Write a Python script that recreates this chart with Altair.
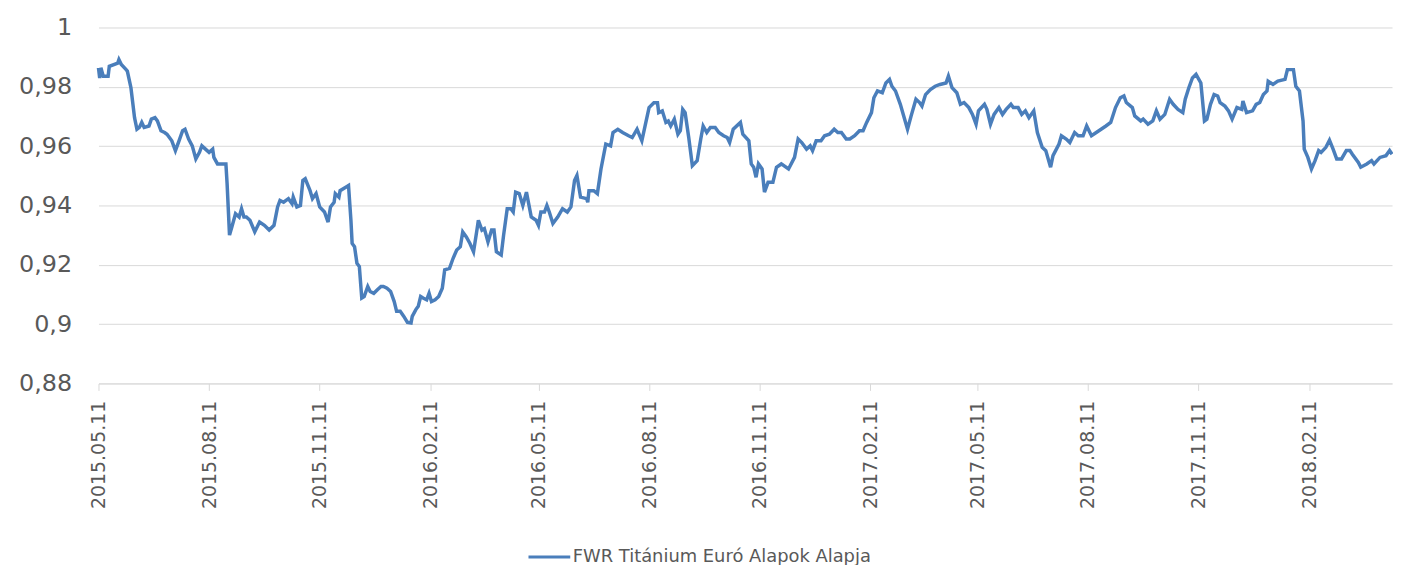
import altair as alt
import pandas as pd

SERIES = "FWR Titánium Euró Alapok Alapja"

dates = [
 "2015-05-11","2015-05-12","2015-05-13","2015-05-15","2015-05-19","2015-05-20","2015-05-27","2015-05-28","2015-05-30","2015-06-03",
 "2015-06-04","2015-06-07","2015-06-10","2015-06-12","2015-06-14","2015-06-16","2015-06-18","2015-06-22","2015-06-24","2015-06-27",
 "2015-06-29","2015-07-02","2015-07-05","2015-07-07","2015-07-11","2015-07-14","2015-07-17","2015-07-20","2015-07-22","2015-07-25",
 "2015-07-28","2015-07-31","2015-08-03","2015-08-05","2015-08-08","2015-08-11","2015-08-14","2015-08-15","2015-08-18","2015-08-22",
 "2015-08-25","2015-08-26","2015-08-28","2015-08-30","2015-09-02","2015-09-05","2015-09-07","2015-09-09","2015-09-11","2015-09-14",
 "2015-09-18","2015-09-22","2015-09-26","2015-09-30","2015-10-04","2015-10-07","2015-10-09","2015-10-12","2015-10-16","2015-10-19",
 "2015-10-20","2015-10-23","2015-10-26","2015-10-28","2015-10-30","2015-11-03","2015-11-05","2015-11-08","2015-11-11","2015-11-15",
 "2015-11-18","2015-11-20","2015-11-23","2015-11-24","2015-11-27","2015-11-28","2015-12-03","2015-12-05","2015-12-07","2015-12-08",
 "2015-12-10","2015-12-12","2015-12-14","2015-12-16","2015-12-18","2015-12-21","2015-12-23","2015-12-26","2015-12-29","2016-01-01",
 "2016-01-03","2016-01-06","2016-01-09","2016-01-12","2016-01-14","2016-01-17","2016-01-20","2016-01-23","2016-01-26","2016-01-27",
 "2016-01-30","2016-02-01","2016-02-03","2016-02-05","2016-02-08","2016-02-10","2016-02-12","2016-02-15","2016-02-18","2016-02-21",
 "2016-02-23","2016-02-27","2016-03-01","2016-03-04","2016-03-07","2016-03-09","2016-03-12","2016-03-15","2016-03-18","2016-03-21",
 "2016-03-22","2016-03-25","2016-03-27","2016-03-30","2016-04-02","2016-04-04","2016-04-06","2016-04-10","2016-04-12","2016-04-15",
 "2016-04-18","2016-04-20","2016-04-22","2016-04-25","2016-04-28","2016-05-01","2016-05-05","2016-05-09","2016-05-11","2016-05-13",
 "2016-05-16","2016-05-18","2016-05-20","2016-05-23","2016-05-27","2016-05-31","2016-06-04","2016-06-07","2016-06-10","2016-06-12",
 "2016-06-15","2016-06-20","2016-06-21","2016-06-22","2016-06-26","2016-06-29","2016-07-02","2016-07-06","2016-07-10","2016-07-12",
 "2016-07-16","2016-07-20","2016-07-25","2016-07-28","2016-08-01","2016-08-05","2016-08-08","2016-08-11","2016-08-15","2016-08-18",
 "2016-08-19","2016-08-22","2016-08-25","2016-08-27","2016-08-29","2016-09-01","2016-09-04","2016-09-06","2016-09-08","2016-09-10",
 "2016-09-13","2016-09-16","2016-09-20","2016-09-23","2016-09-25","2016-09-28","2016-10-01","2016-10-05","2016-10-08","2016-10-12",
 "2016-10-15","2016-10-17","2016-10-20","2016-10-26","2016-10-28","2016-11-02","2016-11-04","2016-11-06","2016-11-08","2016-11-10",
 "2016-11-13","2016-11-15","2016-11-18","2016-11-22","2016-11-25","2016-11-29","2016-12-05","2016-12-10","2016-12-13","2016-12-16",
 "2016-12-20","2016-12-23","2016-12-25","2016-12-28","2017-01-01","2017-01-04","2017-01-08","2017-01-12","2017-01-15","2017-01-18",
 "2017-01-22","2017-01-25","2017-01-29","2017-02-02","2017-02-05","2017-02-08","2017-02-12","2017-02-14","2017-02-17","2017-02-21",
 "2017-02-24","2017-02-27","2017-03-01","2017-03-04","2017-03-08","2017-03-14","2017-03-17","2017-03-21","2017-03-24","2017-03-26",
 "2017-03-29","2017-04-02","2017-04-06","2017-04-10","2017-04-15","2017-04-17","2017-04-20","2017-04-24","2017-04-27","2017-04-30",
 "2017-05-04","2017-05-07","2017-05-10","2017-05-12","2017-05-17","2017-05-19","2017-05-22","2017-05-25","2017-05-29","2017-06-01",
 "2017-06-04","2017-06-08","2017-06-10","2017-06-14","2017-06-17","2017-06-20","2017-06-23","2017-06-27","2017-06-30","2017-07-04",
 "2017-07-07","2017-07-11","2017-07-13","2017-07-18","2017-07-20","2017-07-24","2017-07-27","2017-07-31","2017-08-03","2017-08-07",
 "2017-08-10","2017-08-14","2017-08-18","2017-08-22","2017-08-26","2017-08-30","2017-09-03","2017-09-07","2017-09-10","2017-09-12",
 "2017-09-17","2017-09-19","2017-09-24","2017-09-26","2017-09-30","2017-10-04","2017-10-07","2017-10-10","2017-10-14","2017-10-18",
 "2017-10-21","2017-10-25","2017-10-29","2017-10-31","2017-11-03","2017-11-06","2017-11-09","2017-11-13","2017-11-16","2017-11-18",
 "2017-11-21","2017-11-24","2017-11-27","2017-11-29","2017-12-03","2017-12-06","2017-12-09","2017-12-13","2017-12-17","2017-12-18",
 "2017-12-21","2017-12-26","2017-12-29","2018-01-01","2018-01-04","2018-01-07","2018-01-08","2018-01-12","2018-01-16","2018-01-22",
 "2018-01-24","2018-01-29","2018-01-31","2018-02-03","2018-02-06","2018-02-07","2018-02-10","2018-02-13","2018-02-16","2018-02-19",
 "2018-02-21","2018-02-25","2018-02-28","2018-03-03","2018-03-06","2018-03-10","2018-03-14","2018-03-17","2018-03-19","2018-03-24",
 "2018-03-26","2018-03-31","2018-04-04","2018-04-06","2018-04-11","2018-04-16","2018-04-19","2018-04-21",
]

values = [
 0.9864,0.9830,0.9864,0.9836,0.9836,0.9869,0.9880,0.9892,0.9875,0.9858,
 0.9853,0.9797,0.9696,0.9657,0.9663,0.9680,0.9663,0.9668,0.9691,0.9696,
 0.9685,0.9652,0.9646,0.9640,0.9618,0.9585,0.9618,0.9652,0.9657,0.9624,
 0.9601,0.9557,0.9579,0.9601,0.9590,0.9579,0.9590,0.9562,0.9540,0.9540,
 0.9540,0.9473,0.9300,0.9328,0.9372,0.9361,0.9389,0.9361,0.9361,0.9350,
 0.9311,0.9344,0.9333,0.9317,0.9333,0.9395,0.9417,0.9411,0.9423,0.9406,
 0.9428,0.9395,0.9400,0.9484,0.9490,0.9450,0.9423,0.9440,0.9395,0.9378,
 0.9344,0.9395,0.9411,0.9440,0.9428,0.9450,0.9462,0.9467,0.9350,0.9272,
 0.9261,0.9205,0.9194,0.9088,0.9093,0.9127,0.9110,0.9104,0.9116,0.9127,
 0.9127,0.9121,0.9110,0.9076,0.9043,0.9043,0.9026,0.9006,0.9004,0.9026,
 0.9049,0.9060,0.9093,0.9088,0.9082,0.9104,0.9076,0.9082,0.9093,0.9121,
 0.9183,0.9188,0.9222,0.9250,0.9261,0.9311,0.9294,0.9272,0.9244,0.9322,
 0.9350,0.9317,0.9322,0.9277,0.9317,0.9317,0.9244,0.9233,0.9300,0.9389,
 0.9389,0.9378,0.9445,0.9440,0.9400,0.9445,0.9361,0.9350,0.9333,0.9378,
 0.9378,0.9400,0.9378,0.9339,0.9361,0.9389,0.9378,0.9395,0.9484,0.9501,
 0.9428,0.9423,0.9411,0.9450,0.9450,0.9440,0.9523,0.9607,0.9601,0.9646,
 0.9657,0.9646,0.9635,0.9629,0.9657,0.9618,0.9674,0.9730,0.9746,0.9746,
 0.9713,0.9719,0.9680,0.9685,0.9668,0.9691,0.9640,0.9652,0.9724,0.9713,
 0.9629,0.9534,0.9551,0.9624,0.9668,0.9646,0.9663,0.9663,0.9646,0.9635,
 0.9629,0.9612,0.9657,0.9680,0.9640,0.9618,0.9540,0.9529,0.9495,0.9540,
 0.9523,0.9445,0.9478,0.9478,0.9529,0.9540,0.9523,0.9562,0.9624,0.9612,
 0.9590,0.9601,0.9585,0.9618,0.9618,0.9635,0.9640,0.9657,0.9646,0.9646,
 0.9624,0.9624,0.9635,0.9652,0.9652,0.9680,0.9713,0.9763,0.9786,0.9780,
 0.9813,0.9825,0.9802,0.9786,0.9741,0.9657,0.9702,0.9758,0.9747,0.9735,
 0.9774,0.9791,0.9802,0.9808,0.9813,0.9836,0.9797,0.9780,0.9741,0.9747,
 0.9730,0.9707,0.9674,0.9719,0.9741,0.9724,0.9674,0.9707,0.9730,0.9707,
 0.9724,0.9741,0.9730,0.9730,0.9707,0.9719,0.9696,0.9719,0.9646,0.9596,
 0.9585,0.9529,0.9568,0.9607,0.9635,0.9624,0.9612,0.9646,0.9635,0.9635,
 0.9668,0.9635,0.9646,0.9657,0.9668,0.9680,0.9730,0.9763,0.9769,0.9747,
 0.9730,0.9702,0.9685,0.9691,0.9674,0.9685,0.9719,0.9691,0.9707,0.9758,
 0.9741,0.9724,0.9713,0.9758,0.9797,0.9830,0.9842,0.9813,0.9685,0.9691,
 0.9741,0.9774,0.9769,0.9747,0.9735,0.9719,0.9691,0.9730,0.9724,0.9752,
 0.9713,0.9719,0.9741,0.9747,0.9774,0.9786,0.9819,0.9808,0.9819,0.9825,
 0.9858,0.9858,0.9802,0.9786,0.9685,0.9590,0.9562,0.9523,0.9551,0.9585,
 0.9579,0.9596,0.9620,0.9590,0.9557,0.9557,0.9585,0.9585,0.9573,0.9545,
 0.9529,0.9540,0.9551,0.9540,0.9562,0.9568,0.9585,0.9573,
]

y_ticks = [0.88, 0.90, 0.92, 0.94, 0.96, 0.98, 1.0]
x_tick_dates = [
 (2015, 5, 11), (2015, 8, 11), (2015, 11, 11), (2016, 2, 11), (2016, 5, 11), (2016, 8, 11),
 (2016, 11, 11), (2017, 2, 11), (2017, 5, 11), (2017, 8, 11), (2017, 11, 11), (2018, 2, 11),
]
x_start = (2015, 5, 11)
x_end = (2018, 4, 21)

df = pd.DataFrame({"date": dates, "value": values, "series": SERIES})

def dt(t):
    return alt.DateTime(year=t[0], month=t[1], date=t[2], utc=True)

GRAY = "#d9d9d9"
TEXT = "#595959"
BLUE = "#4a7ebb"

chart = alt.Chart(df).mark_line(strokeWidth=3.5).encode(
    x=alt.X(
        "date:T",
        scale=alt.Scale(type="utc", domain=[dt(x_start), dt(x_end)]),
        axis=alt.Axis(
            values=[dt(t) for t in x_tick_dates],
            labelExpr="utcFormat(datum.value, '%Y.%m.%d')",
            labelAngle=-90,
            grid=False,
            domainColor=GRAY,
            tickColor=GRAY,
            tickSize=7,
            labelFontSize=19,
            labelColor=TEXT,
            labelPadding=10,
            labelOverlap=False,
            title=None,
        ),
    ),
    y=alt.Y(
        "value:Q",
        scale=alt.Scale(domain=[0.88, 1.0], nice=False, zero=False),
        axis=alt.Axis(
            values=y_ticks,
            labelExpr="replace(format(datum.value, '.2~f'), '.', ',')",
            domain=False,
            ticks=False,
            gridColor=GRAY,
            gridWidth=1,
            labelFontSize=24,
            labelColor=TEXT,
            labelPadding=27,
            title=None,
        ),
    ),
    color=alt.Color(
        "series:N",
        scale=alt.Scale(range=[BLUE]),
        legend=alt.Legend(
            orient="none",
            legendX=431,
            legendY=510,
            title=None,
            symbolType="stroke",
            symbolSize=1764,
            symbolStrokeWidth=3,
            labelFontSize=18,
            labelColor=TEXT,
            labelLimit=700,
            padding=0,
            labelOffset=1,
        ),
    ),
).properties(
    width=1301,
    height=358,
    autosize=alt.AutoSizeParams(type="none"),
    padding={"left": 91, "top": 18, "right": 1, "bottom": 181},
).configure(font="DejaVu Sans").configure_view(strokeWidth=0)

chart.save("out.html", embed_options={"renderer": "svg", "actions": False})
